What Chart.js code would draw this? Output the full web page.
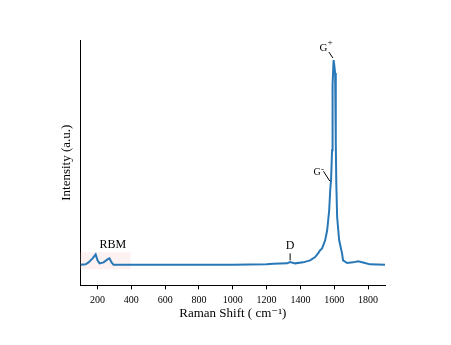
<!DOCTYPE html>
<html>
<head>
<meta charset="utf-8">
<script src="https://cdn.jsdelivr.net/npm/chart.js@4"></script>
<style>
  html, body { margin: 0; padding: 0; background: #fff; }
  #wrap { width: 451px; height: 345px; }
</style>
</head>
<body>
<div id="wrap"><canvas id="raman"></canvas></div>
<script>
// Raman shift (cm-1) and intensity (a.u.)
const shift = [100, 130, 147, 171, 189, 200, 212, 236, 259, 271, 283, 295, 400, 600, 800, 1000, 1200,
  1239, 1280, 1321, 1339, 1368, 1416, 1457, 1487, 1504, 1516, 1528, 1546, 1558, 1570, 1576, 1581,
  1587, 1590, 1596, 1600, 1605, 1609, 1612, 1617, 1629, 1646, 1652, 1676, 1711, 1741, 1782, 1811, 1900];
const intensity = [20.5, 21, 23, 27, 31, 25, 22, 23, 26, 27, 23, 20.5, 20.5, 20.5, 20.5, 20.5, 21,
  21.5, 21.8, 22, 23.3, 22, 23, 25, 28.3, 32, 35, 37, 45, 55, 75, 95, 105,
  135, 200, 225, 220, 212, 142, 102, 68, 45, 32, 25, 22.3, 23, 24, 22.3, 21, 20.7];
const xTicks = [200, 400, 600, 800, 1000, 1200, 1400, 1600, 1800];

const serif = "'Liberation Serif', 'DejaVu Serif', serif";

// labels on the peaks
const peakNotes = {
  id: "peakNotes",
  beforeDatasetsDraw(chart) {
    const { ctx, scales: { x, y } } = chart;
    ctx.save();
    // shaded RBM region
    ctx.fillStyle = "rgba(248, 215, 215, 0.35)";
    ctx.fillRect(x.getPixelForValue(100), y.getPixelForValue(33),
      x.getPixelForValue(395) - x.getPixelForValue(100), y.getPixelForValue(16) - y.getPixelForValue(33));
    ctx.restore();
  },
  afterDatasetsDraw(chart) {
    const { ctx, scales: { x, y } } = chart;
    ctx.save();
    ctx.fillStyle = "#000";
    ctx.strokeStyle = "#000";
    ctx.lineWidth = 1;
    ctx.textBaseline = "middle";
    ctx.textAlign = "center";
    ctx.font = "12px " + serif;
    ctx.fillText("RBM", x.getPixelForValue(290), y.getPixelForValue(40));

    // D
    const dx = x.getPixelForValue(1339);
    ctx.fillText("D", dx, y.getPixelForValue(39));
    ctx.beginPath();
    ctx.moveTo(dx, y.getPixelForValue(32));
    ctx.lineTo(dx, y.getPixelForValue(25));
    ctx.stroke();

    // G+
    ctx.textAlign = "right";
    ctx.font = "11px " + serif;
    ctx.fillText("G", x.getPixelForValue(1560), y.getPixelForValue(237));
    ctx.font = "9px " + serif;
    ctx.textAlign = "left";
    ctx.fillText("+", x.getPixelForValue(1560), y.getPixelForValue(242));
    ctx.beginPath();
    ctx.moveTo(x.getPixelForValue(1568), y.getPixelForValue(233));
    ctx.lineTo(x.getPixelForValue(1592), y.getPixelForValue(227));
    ctx.stroke();

    // G-
    ctx.textAlign = "right";
    ctx.font = "10px " + serif;
    ctx.fillText("G", x.getPixelForValue(1520), y.getPixelForValue(113));
    ctx.font = "9px " + serif;
    ctx.textAlign = "left";
    ctx.fillText("-", x.getPixelForValue(1522), y.getPixelForValue(116));
    ctx.beginPath();
    ctx.moveTo(x.getPixelForValue(1536), y.getPixelForValue(114));
    ctx.lineTo(x.getPixelForValue(1574), y.getPixelForValue(104));
    ctx.stroke();
    ctx.restore();
  },
};

new Chart(document.getElementById("raman"), {
  type: "line",
  data: {
    datasets: [
      {
        data: shift.map((s, i) => ({ x: s, y: intensity[i] })),
        borderColor: "#2878b8",
        borderWidth: 2,
        pointRadius: 0,
        tension: 0,
        fill: false,
      },
    ],
  },
  options: {
    responsive: true,
    maintainAspectRatio: false,
    animation: false,
    layout: { padding: { left: 59, right: 66, top: 40, bottom: 24 } },
    plugins: {
      legend: { display: false },
      tooltip: { enabled: false },
    },
    scales: {
      x: {
        type: "linear",
        min: 100,
        max: 1900,
        afterBuildTicks: (scale) => {
          scale.ticks = xTicks.map((v) => ({ value: v }));
        },
        grid: { drawOnChartArea: false, drawTicks: true, tickLength: 4, color: "#000" },
        border: { display: true, color: "#000", width: 1 },
        ticks: {
          color: "#000",
          padding: 5,
          maxRotation: 0,
          autoSkip: false,
          font: { family: serif, size: 10 },
          callback: (v) => String(v),
        },
        title: {
          display: true,
          text: "Raman Shift ( cm⁻¹)",
          color: "#000",
          padding: { top: -6, bottom: 0 },
          font: { family: serif, size: 13 },
        },
      },
      y: {
        min: 0,
        max: 245,
        grid: { drawOnChartArea: false, drawTicks: false },
        border: { display: true, color: "#000", width: 1 },
        ticks: { display: false },
        title: {
          display: true,
          text: "Intensity (a.u.)",
          color: "#000",
          padding: { top: 0, bottom: 6 },
          font: { family: serif, size: 13 },
        },
      },
    },
  },
  plugins: [peakNotes],
});
</script>
</body>
</html>
